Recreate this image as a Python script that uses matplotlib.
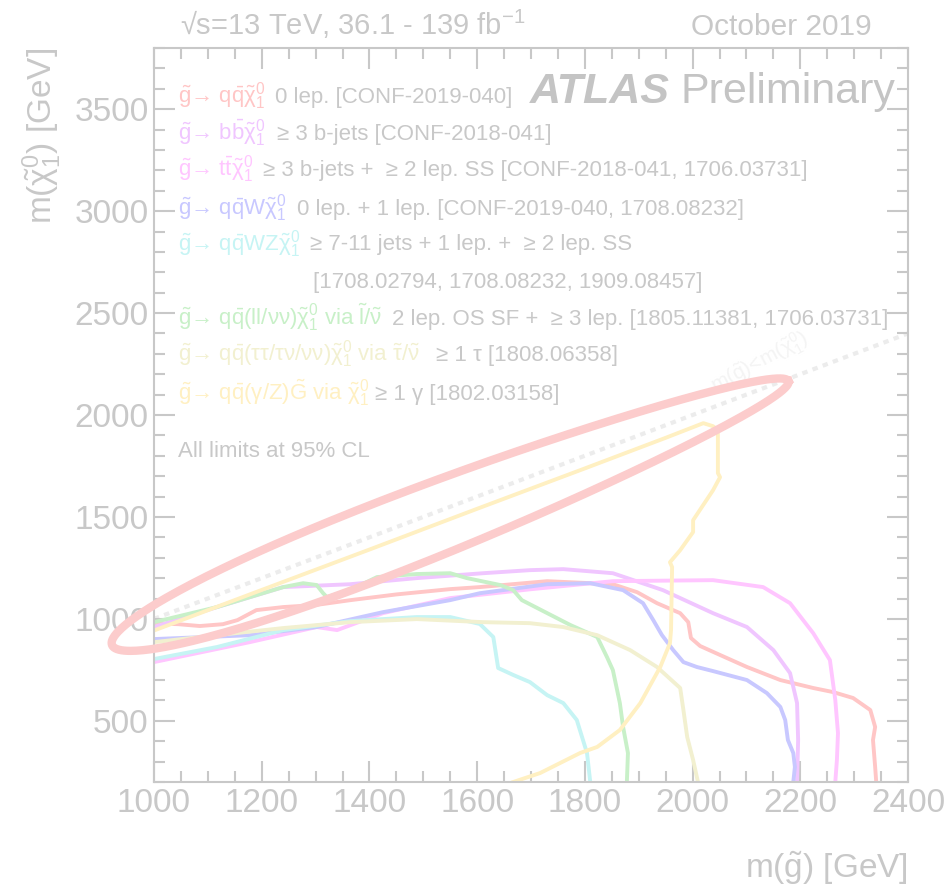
import matplotlib
matplotlib.use("Agg")
import matplotlib.pyplot as plt
from matplotlib.ticker import MultipleLocator
import numpy as np

plt.rcParams["font.family"] = ["Liberation Sans", "DejaVu Sans"]
plt.rcParams["mathtext.fontset"] = "custom"
plt.rcParams["mathtext.rm"] = "Liberation Sans"
plt.rcParams["mathtext.it"] = "Liberation Sans"
plt.rcParams["mathtext.bf"] = "Liberation Sans:bold"
plt.rcParams["mathtext.sf"] = "Liberation Sans"

# exclusion contours, m(gluino) vs m(neutralino) in GeV
qq_x = [1000, 1045, 1085, 1128, 1155, 1190, 1240, 1300, 1365, 1450, 1550, 1605, 1730, 1852, 1897, 1934,
        1977, 1992, 1997, 2014, 2051, 2101, 2163, 2224, 2261, 2298, 2330, 2339, 2335, 2339, 2341]
qq_y = [978, 974, 965, 974, 994, 1043, 1058, 1068, 1092, 1120, 1146, 1156, 1185, 1170, 1131, 1077,
        1028, 984, 906, 867, 823, 764, 700, 661, 641, 612, 553, 470, 406, 274, 200]

bb_x = [1000, 1117, 1240, 1364, 1488, 1611, 1698, 1760, 1852, 1945, 2038, 2101, 2150, 2181, 2194, 2196, 2194]
bb_y = [960, 1058, 1156, 1170, 1200, 1224, 1239, 1244, 1224, 1141, 1028, 960, 847, 734, 587, 406, 200]

tt_x = [1000, 1178, 1302, 1340, 1425, 1550, 1698, 1852, 2038, 2131, 2181, 2224, 2255, 2265, 2270, 2268, 2265]
tt_y = [788, 886, 960, 945, 1028, 1102, 1145, 1185, 1190, 1156, 1077, 930, 798, 602, 440, 308, 200]

qqw_x = [1000, 1178, 1302, 1425, 1550, 1605, 1730, 1810, 1871, 1908, 1927, 1943, 1964, 1983, 2008, 2038,
         2101, 2138, 2163, 2172, 2177, 2187, 2190, 2187]
qqw_y = [901, 920, 960, 1033, 1092, 1126, 1170, 1175, 1141, 1077, 994, 921, 847, 788, 764, 744,
         700, 636, 568, 504, 406, 342, 274, 200]

qqwz_x = [1000, 1117, 1240, 1364, 1488, 1550, 1605, 1630, 1639, 1667, 1698, 1730, 1760, 1785, 1804, 1810]
qqwz_y = [803, 862, 945, 989, 1009, 1009, 975, 911, 759, 725, 690, 626, 587, 504, 342, 200]

slep_x = [1000, 1117, 1240, 1277, 1302, 1314, 1321, 1364, 1414, 1488, 1550, 1581, 1643, 1667, 1683, 1773,
          1823, 1841, 1852, 1865, 1871, 1880, 1878]
slep_y = [984, 1058, 1156, 1175, 1166, 1126, 1107, 1141, 1205, 1220, 1224, 1200, 1166, 1141, 1092, 970,
          911, 813, 749, 587, 470, 342, 200]

stau_x = [1000, 1117, 1240, 1364, 1488, 1611, 1698, 1760, 1823, 1884, 1934, 1977, 1983, 1990, 2001, 2010]
stau_y = [886, 920, 955, 984, 999, 984, 979, 960, 920, 847, 764, 661, 553, 421, 308, 200]

gmsb_x = [1002, 1200, 1400, 1600, 1800, 1950, 2020, 2038, 2047, 2047, 2051, 2038, 2001,
          2001, 1977, 1958, 1962, 1960, 1958, 1940, 1903, 1865, 1823, 1791, 1717, 1667]
gmsb_y = [945, 1142, 1340, 1540, 1738, 1888, 1960, 1945, 1926, 1715, 1695, 1631, 1484,
          1426, 1337, 1278, 1254, 945, 881, 764, 587, 455, 372, 342, 244, 200]

# highlighted region (compressed spectra), centre / half axes in GeV
ell_centre = (1550, 1519)
ell_major = (628, 647)
ell_minor = (-24, 164)

colors = ["#ffc6c6", "#f0c6ff", "#ffc6ff", "#c8c8ff", "#c6f4f4", "#c8f0c8", "#f2f0d0", "#fff0c2"]
curves = [(qq_x, qq_y), (bb_x, bb_y), (tt_x, tt_y), (qqw_x, qqw_y), (qqwz_x, qqwz_y),
          (slep_x, slep_y), (stau_x, stau_y), (gmsb_x, gmsb_y)]

process_labels = [
    r"$\tilde{g}$→ $q\bar{q}\tilde{\chi}_{1}^{0}$",
    r"$\tilde{g}$→ $b\bar{b}\tilde{\chi}_{1}^{0}$",
    r"$\tilde{g}$→ $t\bar{t}\tilde{\chi}_{1}^{0}$",
    r"$\tilde{g}$→ $q\bar{q}W\tilde{\chi}_{1}^{0}$",
    r"$\tilde{g}$→ $q\bar{q}WZ\tilde{\chi}_{1}^{0}$",
    r"$\tilde{g}$→ $q\bar{q}(ll/\nu\nu)\tilde{\chi}_{1}^{0}$ via $\tilde{l}/\tilde{\nu}$",
    r"$\tilde{g}$→ $q\bar{q}(\tau\tau/\tau\nu/\nu\nu)\tilde{\chi}_{1}^{0}$ via $\tilde{\tau}/\tilde{\nu}$",
    r"$\tilde{g}$→ $q\bar{q}(\gamma/Z)\tilde{G}$ via $\tilde{\chi}_{1}^{0}$",
]
analysis_labels = [
    "0 lep. [CONF-2019-040]",
    "≥ 3 b-jets [CONF-2018-041]",
    "≥ 3 b-jets +  ≥ 2 lep. SS [CONF-2018-041, 1706.03731]",
    "0 lep. + 1 lep. [CONF-2019-040, 1708.08232]",
    "≥ 7-11 jets + 1 lep. +  ≥ 2 lep. SS",
    "2 lep. OS SF +  ≥ 3 lep. [1805.11381, 1706.03731]",
    "≥ 1 τ [1808.06358]",
    "≥ 1 γ [1802.03158]",
]
extra_line = "[1708.02794, 1708.08232, 1909.08457]"

W, H = 947, 888
grey = "#c8c8c8"

fig = plt.figure(figsize=(W / 100, H / 100), dpi=100)
ax = fig.add_axes([154 / W, 1 - 782 / H, (908 - 154) / W, (782 - 48) / H])


def px(x, y):
    return x / W, 1 - y / H


# kinematic limit
ax.plot([1000, 2400], [1000, 2400], color="#ececec", lw=3, ls=(0, (1.3, 1.3)), zorder=1)
ax.text(2125, 2255, r"m($\tilde{g}$)<m($\tilde{\chi}_{1}^{0}$)", color="#f4f4f4", fontsize=15,
        rotation=28, ha="center", va="center", zorder=1)

for (cx, cy), c in zip(curves, colors):
    ax.plot(cx, cy, color=c, lw=2.8, zorder=2, solid_joinstyle="round")

t = np.linspace(0, 2 * np.pi, 400)
k = 0.2
ex = ell_centre[0] + np.cos(t) * ell_major[0] + np.sin(t) * (1 - k * np.cos(t)) * ell_minor[0]
ey = ell_centre[1] + np.cos(t) * ell_major[1] + np.sin(t) * (1 - k * np.cos(t)) * ell_minor[1]
ax.plot(ex, ey, color="#fccccc", lw=6, clip_on=False, zorder=3)

ax.set_xlim(1000, 2400)
ax.set_ylim(200, 3800)
ax.xaxis.set_major_locator(MultipleLocator(200))
ax.xaxis.set_minor_locator(MultipleLocator(50))
ax.yaxis.set_major_locator(MultipleLocator(500))
ax.yaxis.set_minor_locator(MultipleLocator(100))
ax.tick_params(which="both", direction="in", top=True, right=True, color=grey, width=1.5,
               labelcolor=grey, labelsize=24)
ax.tick_params(which="major", length=15, pad=4)
ax.tick_params(which="minor", length=8)
for s in ax.spines.values():
    s.set_color(grey)
    s.set_linewidth(1.5)

fig.text(*px(908, 878), r"m($\tilde{g}$) [GeV]", color=grey, fontsize=24, ha="right", va="baseline")
fig.text(*px(42, 48), r"m($\tilde{\chi}_{1}^{0}$) [GeV]", color=grey, fontsize=24, rotation=90,
         ha="center", va="top")

fig.text(*px(180, 35), r"√s=13 TeV, 36.1 - 139 fb$^{-1}$", color=grey, fontsize=21,
         va="baseline")
fig.text(*px(872, 35), "October 2019", color=grey, fontsize=21.5, ha="right", va="baseline")

fig.text(*px(530, 103), "ATLAS", color="#c4c4c4", fontsize=31, fontweight="bold", style="italic",
         va="baseline")
fig.text(*px(680, 103), "Preliminary", color="#c4c4c4", fontsize=31, va="baseline")

row_y = [103, 140, 176, 215, 250, 325, 361, 400]
desc_x = [275, 277, 263, 297, 310, 392, 436, 375]
for lab, desc, c, y, dx in zip(process_labels, analysis_labels, colors, row_y, desc_x):
    fig.text(*px(178, y), lab, color=c, fontsize=16, va="baseline")
    fig.text(*px(dx, y), desc, color=grey, fontsize=16, va="baseline")
fig.text(*px(313, 288), extra_line, color=grey, fontsize=16, va="baseline")
fig.text(*px(178, 457), "All limits at 95% CL", color=grey, fontsize=16, va="baseline")

fig.savefig("out.png", dpi=100)
